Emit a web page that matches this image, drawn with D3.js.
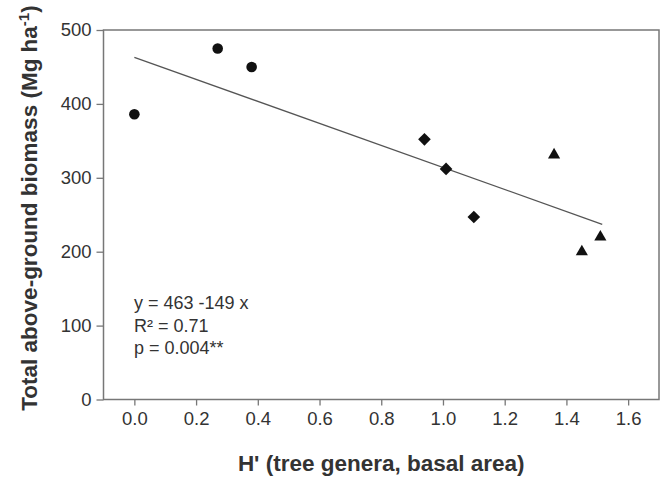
<!DOCTYPE html>
<html>
<head>
<meta charset="utf-8">
<script src="https://cdn.jsdelivr.net/npm/d3@7"></script>
<style>
  body { margin: 0; background: #fff; }
  text { font-family: "Liberation Sans", Arial, sans-serif; fill: #333; }
</style>
</head>
<body>
<svg id="chart" width="667" height="479"></svg>
<script>
// data
var circleX = [0.0, 0.27, 0.38];
var circleY = [386, 475, 450];
var diamondX = [0.94, 1.01, 1.10];
var diamondY = [352, 312, 247];
var triangleX = [1.36, 1.45, 1.51];
var triangleY = [331, 200, 220];
var xTicks = [0.0, 0.2, 0.4, 0.6, 0.8, 1.0, 1.2, 1.4, 1.6];
var yTicks = [0, 100, 200, 300, 400, 500];
var fitIntercept = 463, fitSlope = -149;
var fitRange = [0, 1.516];
var statsLines = ["y = 463 -149 x", "R\u00b2 = 0.71", "p = 0.004**"];

var svg = d3.select('#chart');
var plotL = 103.5, plotR = 659, plotT = 30, plotB = 399.5;

var x = d3.scaleLinear().domain([-0.1, 1.7]).range([plotL, plotR]);
var y = d3.scaleLinear().domain([0, 500]).range([plotB, plotT]);

// frame
svg.append('rect')
    .attr('x', plotL).attr('y', plotT)
    .attr('width', plotR - plotL).attr('height', plotB - plotT)
    .attr('fill', 'none').attr('stroke', '#777').attr('stroke-width', 1.5);

var xAxis = svg.append('g')
    .attr('transform', 'translate(0,' + plotB + ')')
    .call(d3.axisBottom(x).tickValues(xTicks).tickFormat(d3.format('.1f')).tickSize(6).tickPadding(6));
var yAxis = svg.append('g')
    .attr('transform', 'translate(' + plotL + ',0)')
    .call(d3.axisLeft(y).tickValues(yTicks).tickSize(7).tickPadding(5));

[xAxis, yAxis].forEach(function(g) {
    g.select('.domain').remove();
    g.selectAll('.tick line').attr('stroke', '#777').attr('stroke-width', 1.3);
    g.selectAll('.tick text')
        .style('font-family', '"Liberation Sans", Arial, sans-serif')
        .style('font-size', '18.5px').attr('fill', '#3a3a3a');
});

// regression line
svg.append('line')
    .attr('x1', x(fitRange[0])).attr('y1', y(fitIntercept + fitSlope * fitRange[0]))
    .attr('x2', x(fitRange[1])).attr('y2', y(fitIntercept + fitSlope * fitRange[1]))
    .attr('stroke', '#555').attr('stroke-width', 1.3);

var marks = svg.append('g').attr('fill', '#111');

marks.selectAll('circle')
    .data(circleX)
    .enter().append('circle')
    .attr('cx', function(d) { return x(d); })
    .attr('cy', function(d, i) { return y(circleY[i]); })
    .attr('r', 5.3);

marks.selectAll('path.diamond')
    .data(diamondX)
    .enter().append('path')
    .attr('class', 'diamond')
    .attr('d', d3.symbol().type(d3.symbolSquare).size(80))
    .attr('transform', function(d, i) { return 'translate(' + x(d) + ',' + y(diamondY[i]) + ') rotate(45)'; });

marks.selectAll('path.tri')
    .data(triangleX)
    .enter().append('path')
    .attr('class', 'tri')
    .attr('d', d3.symbol().type(d3.symbolTriangle).size(64))
    .attr('transform', function(d, i) { return 'translate(' + x(d) + ',' + y(triangleY[i]) + ')'; });

// stats text
svg.append('g').selectAll('text')
    .data(statsLines)
    .enter().append('text')
    .attr('x', 134)
    .attr('y', function(d, i) { return 309 + i * 22.5; })
    .style('font-size', '18px')
    .text(function(d) { return d; });

// axis titles
svg.append('text')
    .attr('x', (plotL + plotR) / 2).attr('y', 471)
    .attr('text-anchor', 'middle')
    .style('font-size', '22.5px').style('font-weight', 'bold')
    .text("H' (tree genera, basal area)");

var yt = svg.append('text')
    .attr('transform', 'translate(37,208) rotate(-90)')
    .attr('text-anchor', 'middle')
    .style('font-size', '22.5px').style('font-weight', 'bold');
yt.append('tspan').text('Total above-ground biomass (Mg ha');
yt.append('tspan').attr('dy', -8).style('font-size', '15px').text('-1');
yt.append('tspan').attr('dy', 8).text(')');
</script>
</body>
</html>
